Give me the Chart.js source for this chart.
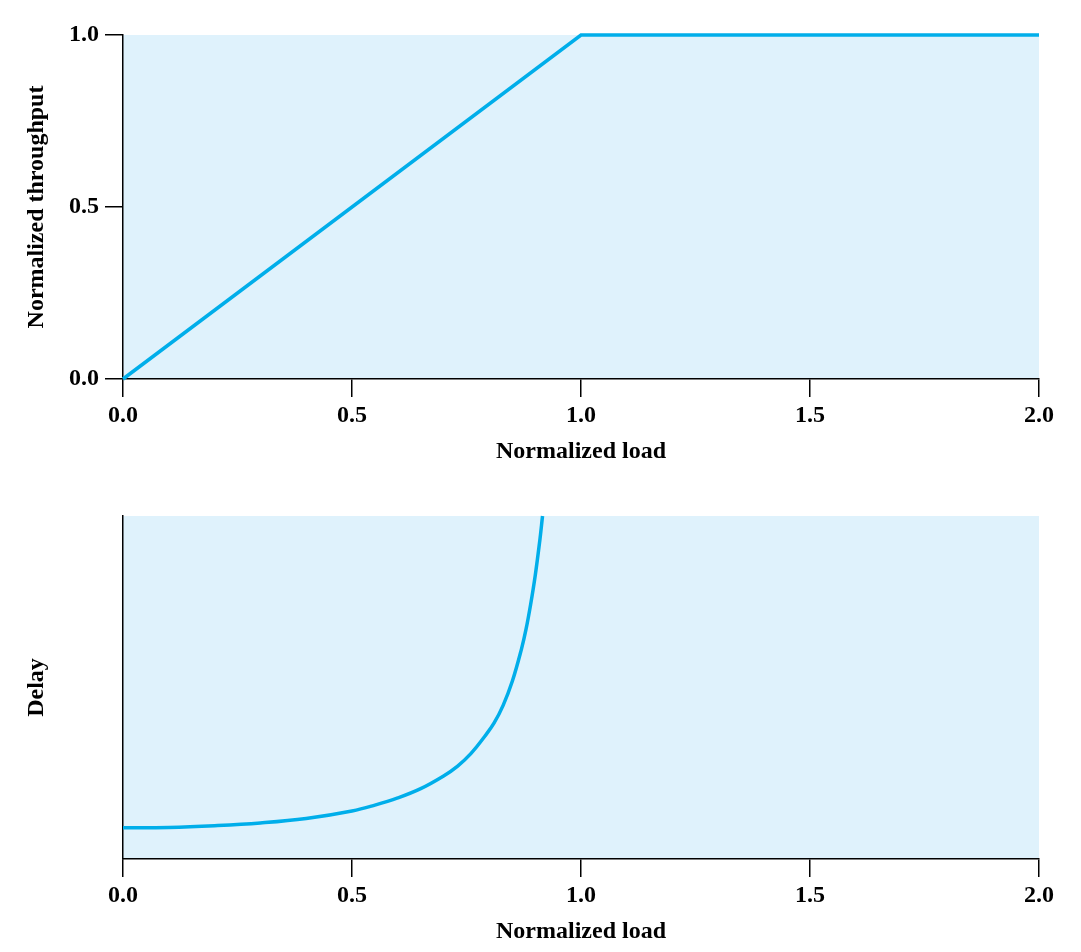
<!DOCTYPE html>
<html>
<head>
<meta charset="utf-8">
<script src="https://cdn.jsdelivr.net/npm/chart.js@4/dist/chart.umd.min.js"></script>
<style>
  body { margin: 0; background: #fff; }
  canvas { display: block; }
</style>
</head>
<body>
<canvas id="top" width="1081" height="476"></canvas>
<canvas id="bottom" width="1081" height="476"></canvas>
<script>
// data
const loadTicks = [0, 0.5, 1.0, 1.5, 2.0];
const throughputTicks = [0, 0.5, 1.0];
const throughputLoad = [0, 1, 2];
const throughput = [0, 1, 1];
const delayLoad = [0, 0.1, 0.2, 0.3, 0.4, 0.5, 0.55, 0.6, 0.65, 0.7, 0.73, 0.76, 0.79, 0.81, 0.83, 0.85, 0.87, 0.88, 0.89, 0.9, 0.91, 0.916];
const delay = [0.091, 0.092, 0.097, 0.105, 0.118, 0.140, 0.157, 0.178, 0.205, 0.242, 0.270, 0.308, 0.358, 0.396, 0.448, 0.518, 0.612, 0.670, 0.742, 0.826, 0.928, 1.0];

const LINE = '#00aeea';
const FILL = '#dff2fc';
const FONT = { family: '"Liberation Serif", "Times New Roman", serif', size: 24, weight: 'bold' };

const plotBg = {
  id: 'plotBg',
  beforeDraw(chart) {
    const { ctx, chartArea: a } = chart;
    ctx.save();
    ctx.fillStyle = FILL;
    ctx.fillRect(a.left, a.top, a.right - a.left, a.bottom - a.top);
    ctx.restore();
  }
};

function toPoints(xs, ys) {
  return xs.map((x, i) => ({ x, y: ys[i] }));
}

function xAxis(height, titlePad) {
  return {
    type: 'linear', min: 0, max: 2,
    afterBuildTicks: s => { s.ticks = loadTicks.map(v => ({ value: v })); },
    afterFit: s => { s.height = height; },
    grid: { drawOnChartArea: false, drawTicks: true, tickLength: 18, color: '#000', lineWidth: 1.5 },
    border: { display: true, color: '#000', width: 1.5 },
    ticks: { color: '#000', font: FONT, padding: 4, maxRotation: 0, callback: v => v.toFixed(1) },
    title: { display: true, text: 'Normalized load', color: '#000', font: FONT, padding: { top: 0, bottom: titlePad } }
  };
}

function yAxis(title, showTicks) {
  return {
    type: 'linear', min: 0, max: 1,
    afterBuildTicks: s => { s.ticks = showTicks ? throughputTicks.map(v => ({ value: v })) : []; },
    afterFit: s => { s.width = 123; },
    grid: { drawOnChartArea: false, drawTicks: showTicks, tickLength: 18, color: '#000', lineWidth: 1.5 },
    border: { display: true, color: '#000', width: 1.5 },
    ticks: { display: showTicks, color: '#000', font: FONT, padding: 6, callback: v => v.toFixed(1) },
    title: { display: true, text: title, color: '#000', font: FONT, padding: { top: 22, bottom: 0 } }
  };
}

function makeChart(id, data, tension, yTitle, showYTicks, pad, xHeight, titlePad) {
  return new Chart(document.getElementById(id), {
    type: 'line',
    data: { datasets: [{ data, borderColor: LINE, borderWidth: 3.5, pointRadius: 0, fill: false, tension, clip: 4 }] },
    options: {
      responsive: false, animation: false,
      layout: { padding: pad },
      plugins: { legend: { display: false }, tooltip: { enabled: false } },
      scales: { x: xAxis(xHeight, titlePad), y: yAxis(yTitle, showYTicks) }
    },
    plugins: [plotBg]
  });
}

makeChart('top', toPoints(throughputLoad, throughput), 0, 'Normalized throughput', true,
  { left: 0, right: 42, top: 35, bottom: 0 }, 97, 10);
makeChart('bottom', toPoints(delayLoad, delay), 0.4, 'Delay', false,
  { left: 0, right: 42, top: 40, bottom: 0 }, 93, 6);
</script>
</body>
</html>
